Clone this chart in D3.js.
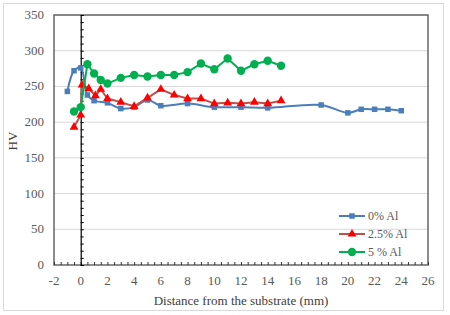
<!DOCTYPE html>
<html>
<head>
<meta charset="utf-8">
<script src="https://cdn.jsdelivr.net/npm/d3@7"></script>
<style>
  body { margin: 0; background: #fff; }
  text { font-family: "Liberation Serif", "Times New Roman", serif; }
</style>
</head>
<body>
<script>
var xTicks = [-2, 0, 2, 4, 6, 8, 10, 12, 14, 16, 18, 20, 22, 24, 26];
var yTicks = [0, 50, 100, 150, 200, 250, 300, 350];

var al0x = [-1, -0.5, 0, 0.5, 1, 2, 3, 4, 5, 6, 8, 10, 12, 14, 18, 20, 21, 22, 23, 24];
var al0y = [243, 272, 276, 238, 230, 227, 219, 221, 231, 223, 226, 221, 221, 220, 224, 213, 218, 218, 218, 216];

var al25x = [-0.5, 0, 0.1, 0.6, 1.1, 1.5, 2, 3, 4, 5, 6, 7, 8, 9, 10, 11, 12, 13, 14, 15];
var al25y = [193, 210, 252, 247, 237, 246, 233, 228, 222, 234, 246, 238, 233, 233, 226, 227, 226, 228, 226, 230];

var al5x = [-0.5, 0, 0.5, 1, 1.5, 2, 3, 4, 5, 6, 7, 8, 9, 10, 11, 12, 13, 14, 15];
var al5y = [215, 221, 281, 268, 259, 254, 262, 266, 264, 266, 266, 270, 282, 274, 289, 272, 281, 286, 279];

var seriesNames = ["0% Al", "2.5% Al", "5 % Al"];

var W = 450, H = 315;
var plotL = 54, plotR = 428, plotT = 15, plotB = 265;

var svg = d3.select("body").append("svg")
    .attr("width", W)
    .attr("height", H);

svg.append("rect")
    .attr("x", 3.5).attr("y", 3.5)
    .attr("width", 440).attr("height", 307)
    .attr("fill", "#fff")
    .attr("stroke", "#d9d9d9");

var x = d3.scaleLinear().domain([-2, 26]).range([plotL, plotR]);
var y = d3.scaleLinear().domain([0, 350]).range([plotB, plotT]);

// gridlines
svg.selectAll(".grid")
    .data(yTicks.filter(function (d) { return d > 0; }))
    .enter().append("line")
    .attr("x1", plotL).attr("x2", plotR)
    .attr("y1", function (d) { return y(d); })
    .attr("y2", function (d) { return y(d); })
    .attr("stroke", "#d9d9d9");

// frame
svg.append("rect")
    .attr("x", plotL).attr("y", plotT)
    .attr("width", plotR - plotL).attr("height", plotB - plotT)
    .attr("fill", "none")
    .attr("stroke", "#666")
    .attr("stroke-width", 1.5);

// bottom minor ticks every 0.5
svg.append("g")
    .attr("transform", "translate(0," + plotB + ")")
    .call(d3.axisTop(x).ticks(56).tickSize(3).tickFormat(""))
    .call(function (g) { g.select(".domain").remove(); })
    .selectAll("line").attr("stroke", "#333");

// x tick labels
svg.selectAll(".xlab")
    .data(xTicks)
    .enter().append("text")
    .attr("x", function (d) { return x(d); })
    .attr("y", 285)
    .attr("text-anchor", "middle")
    .attr("font-size", 13)
    .attr("fill", "#595959")
    .text(function (d) { return d; });

// y tick labels
svg.selectAll(".ylab")
    .data(yTicks)
    .enter().append("text")
    .attr("x", 44)
    .attr("y", function (d) { return y(d) + 4; })
    .attr("text-anchor", "end")
    .attr("font-size", 13)
    .attr("fill", "#595959")
    .text(function (d) { return d; });

// vertical axis at x = 0 with crossing ticks
var yAxisG = svg.append("g")
    .attr("transform", "translate(" + x(0) + ",0)");
yAxisG.call(d3.axisLeft(y).ticks(35).tickSize(3).tickFormat(""));
yAxisG.call(d3.axisRight(y).ticks(35).tickSize(3).tickFormat(""));
yAxisG.selectAll("line").attr("stroke", "#000");
yAxisG.selectAll(".domain").attr("stroke", "#000").attr("stroke-width", 1.2);

// axis titles
svg.append("text")
    .attr("x", 241)
    .attr("y", 305)
    .attr("text-anchor", "middle")
    .attr("font-size", 13)
    .attr("fill", "#404040")
    .text("Distance from the substrate (mm)");

svg.append("text")
    .attr("transform", "translate(17,141) rotate(-90)")
    .attr("text-anchor", "middle")
    .attr("font-size", 13)
    .attr("fill", "#404040")
    .text("HV");

function pts(xs, ys) {
    return xs.map(function (d, i) { return [d, ys[i]]; });
}

var smooth = d3.line()
    .x(function (d) { return x(d[0]); })
    .y(function (d) { return y(d[1]); })
    .curve(d3.curveCatmullRom.alpha(0.5));
var straight = d3.line()
    .x(function (d) { return x(d[0]); })
    .y(function (d) { return y(d[1]); });

var d0 = pts(al0x, al0y), d25 = pts(al25x, al25y), d5 = pts(al5x, al5y);

// 0% Al
svg.append("path").attr("d", smooth(d0))
    .attr("fill", "none").attr("stroke", "#4a7ebb").attr("stroke-width", 2);
svg.selectAll(".sq").data(d0).enter().append("rect")
    .attr("x", function (d) { return x(d[0]) - 2.75; })
    .attr("y", function (d) { return y(d[1]) - 2.75; })
    .attr("width", 5.5).attr("height", 5.5)
    .attr("fill", "#4a7ebb");

// 2.5% Al
svg.append("path").attr("d", straight(d25))
    .attr("fill", "none").attr("stroke", "#c0504d").attr("stroke-width", 2);
var tri = d3.symbol().type(d3.symbolTriangle).size(34);
svg.selectAll(".tri").data(d25).enter().append("path")
    .attr("d", tri)
    .attr("transform", function (d) { return "translate(" + x(d[0]) + "," + y(d[1]) + ")"; })
    .attr("fill", "#ff0000");

// 5% Al
svg.append("path").attr("d", straight(d5))
    .attr("fill", "none").attr("stroke", "#00b050").attr("stroke-width", 2);
svg.selectAll(".circ").data(d5).enter().append("circle")
    .attr("cx", function (d) { return x(d[0]); })
    .attr("cy", function (d) { return y(d[1]); })
    .attr("r", 4.2)
    .attr("fill", "#00b050");

// legend
var legendColors = [["#4a7ebb", "#4a7ebb"], ["#c0504d", "#ff0000"], ["#00b050", "#00b050"]];
var legend = svg.selectAll(".legend")
    .data(seriesNames)
    .enter().append("g")
    .attr("transform", function (d, i) { return "translate(339," + (216 + i * 18) + ")"; });
legend.append("line")
    .attr("x1", 0).attr("x2", 26)
    .attr("stroke", function (d, i) { return legendColors[i][0]; })
    .attr("stroke-width", 2);
legend.each(function (d, i) {
    var g = d3.select(this);
    if (i === 0) {
        g.append("rect").attr("x", 10.25).attr("y", -2.75).attr("width", 5.5).attr("height", 5.5).attr("fill", legendColors[i][1]);
    } else if (i === 1) {
        g.append("path").attr("d", tri).attr("transform", "translate(13,0)").attr("fill", legendColors[i][1]);
    } else {
        g.append("circle").attr("cx", 13).attr("r", 4.2).attr("fill", legendColors[i][1]);
    }
});
legend.append("text")
    .attr("x", 29).attr("y", 4)
    .attr("font-size", 12)
    .attr("fill", "#595959")
    .text(function (d) { return d; });
</script>
</body>
</html>
